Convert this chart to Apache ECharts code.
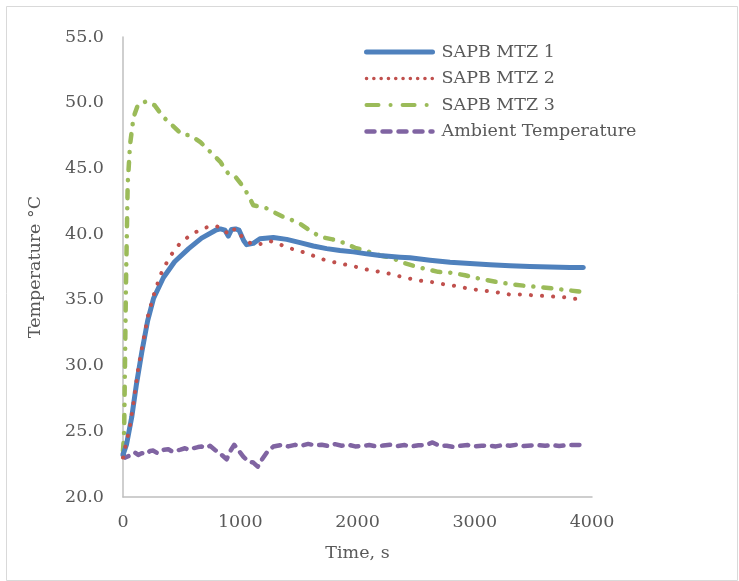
<!DOCTYPE html>
<html>
<head>
<meta charset="utf-8">
<script src="https://cdn.jsdelivr.net/npm/echarts@6/dist/echarts.min.js"></script>
<style>
html,body{margin:0;padding:0;background:#fff;}
#chart{width:739px;height:581px;}
</style>
</head>
<body>
<div id="chart"></div>
<script>
// ---- data ----
const seriesNames = ['SAPB MTZ 1', 'SAPB MTZ 2', 'SAPB MTZ 3', 'Ambient Temperature'];
const xTicks = [0, 1000, 2000, 3000, 4000];
const yTicks = [20, 25, 30, 35, 40, 45, 50, 55];

const mtz1Time = [0, 30, 75, 115, 160, 210, 260, 345, 440, 560, 670, 790, 830, 870, 898, 925, 960, 990, 1030, 1055, 1111, 1168, 1282, 1396, 1510, 1623, 1737, 1851, 1964, 2078, 2192, 2362, 2448, 2618, 2789, 2959, 3130, 3301, 3471, 3642, 3812, 3926];
const mtz1Temp = [23.2, 24.0, 26.1, 28.6, 31.0, 33.4, 35.1, 36.7, 37.9, 38.9, 39.7, 40.3, 40.4, 40.3, 39.85, 40.35, 40.4, 40.3, 39.5, 39.2, 39.3, 39.65, 39.75, 39.6, 39.35, 39.1, 38.9, 38.75, 38.65, 38.5, 38.38, 38.25, 38.2, 38.02, 37.87, 37.77, 37.67, 37.59, 37.54, 37.5, 37.47, 37.46];

const mtz2Time = [0, 20, 60, 90, 130, 173, 216, 273, 330, 400, 486, 586, 685, 770, 840, 898, 925, 980, 1010, 1055, 1111, 1196, 1254, 1325, 1410, 1510, 1595, 1708, 1822, 1964, 2078, 2192, 2305, 2405, 2490, 2561, 2647, 2746, 2846, 2945, 3045, 3187, 3301, 3414, 3528, 3642, 3755, 3855, 3920];
const mtz2Temp = [23.0, 23.8, 25.4, 27.2, 29.8, 31.9, 33.9, 35.7, 37.1, 38.3, 39.3, 40.0, 40.45, 40.65, 40.5, 40.0, 40.36, 40.36, 39.85, 39.47, 39.2, 39.27, 39.47, 39.27, 38.96, 38.71, 38.45, 38.07, 37.82, 37.56, 37.31, 37.13, 36.93, 36.68, 36.55, 36.42, 36.34, 36.17, 36.04, 35.86, 35.73, 35.58, 35.4, 35.4, 35.33, 35.27, 35.2, 35.08, 35.12];

const mtz3Time = [0, 10, 25, 40, 60, 90, 130, 200, 270, 345, 430, 500, 580, 660, 740, 830, 898, 955, 1026, 1069, 1111, 1226, 1296, 1382, 1490, 1595, 1680, 1788, 1879, 1979, 2064, 2192, 2292, 2391, 2490, 2576, 2689, 2803, 2917, 3045, 3201, 3329, 3457, 3571, 3755, 3870, 3921];
const mtz3Temp = [23.5, 25.0, 36.0, 43.8, 46.8, 48.9, 49.9, 50.1, 49.8, 48.9, 48.2, 47.6, 47.5, 47.0, 46.3, 45.5, 44.6, 44.4, 43.6, 42.95, 42.2, 41.96, 41.63, 41.25, 40.92, 40.28, 39.8, 39.6, 39.35, 38.96, 38.76, 38.38, 38.2, 37.82, 37.56, 37.36, 37.13, 37.06, 36.87, 36.6, 36.34, 36.17, 36.04, 35.96, 35.78, 35.65, 35.6];

const ambTime = [0, 20, 45, 70, 102, 130, 159, 202, 230, 258, 290, 316, 350, 386, 420, 458, 490, 529, 560, 600, 640, 671, 710, 742, 785, 842, 884, 913, 949, 983, 1026, 1069, 1111, 1149, 1183, 1226, 1282, 1354, 1410, 1467, 1520, 1580, 1640, 1695, 1750, 1808, 1865, 1922, 1980, 2036, 2100, 2160, 2220, 2280, 2340, 2400, 2460, 2520, 2580, 2640, 2700, 2760, 2820, 2880, 2940, 3000, 3060, 3120, 3180, 3240, 3300, 3360, 3420, 3480, 3540, 3600, 3660, 3720, 3780, 3840, 3920];
const ambTemp = [23.3, 23.0, 23.1, 23.2, 23.38, 23.2, 23.33, 23.28, 23.5, 23.53, 23.35, 23.46, 23.6, 23.64, 23.45, 23.53, 23.6, 23.71, 23.6, 23.71, 23.8, 23.84, 23.75, 23.89, 23.58, 23.2, 22.87, 23.46, 23.97, 23.58, 23.07, 22.69, 22.62, 22.31, 22.82, 23.38, 23.84, 23.97, 23.85, 23.97, 23.9, 24.04, 23.92, 23.97, 23.88, 24.02, 23.9, 23.97, 23.85, 23.89, 23.95, 23.85, 23.92, 23.98, 23.88, 23.95, 23.85, 23.93, 23.95, 24.15, 23.9, 23.9, 23.8, 23.9, 23.95, 23.85, 23.9, 23.92, 23.85, 23.95, 23.9, 23.98, 23.88, 23.92, 23.95, 23.9, 23.95, 23.88, 23.95, 23.95, 23.97];

// ---- build ----
const pair = (ts, vs) => ts.map((t, i) => [t, vs[i]]);
const FONT = 'DejaVu Serif';
const TXT = '#595959';
const colors = ['#4F81BD', '#C0504D', '#9BBB59', '#8064A2'];

const chart = echarts.init(document.getElementById('chart'), null, {renderer: 'canvas'});
chart.setOption({
  animation: false,
  backgroundColor: '#ffffff',
  textStyle: {fontFamily: FONT, color: TXT},
  graphic: [{
    type: 'rect', left: 4, top: 4, silent: true,
    shape: {width: 731, height: 574},
    style: {fill: 'none', stroke: '#d9d9d9', lineWidth: 1}
  }],
  grid: {left: 123, top: 37, width: 469, height: 460, containLabel: false},
  legend: {
    orient: 'vertical', left: 364, top: 42, padding: 0,
    itemWidth: 66, itemHeight: 14, itemGap: 6.5,
    itemStyle: {opacity: 0, borderWidth: 0},
    textStyle: {fontFamily: FONT, fontSize: 17.5, color: TXT, lineHeight: 20, padding: [0, 0, 0, 4]},
    data: [
      {name: seriesNames[0], lineStyle: {width: 5, cap: 'round'}},
      {name: seriesNames[1], lineStyle: {width: 3.5, type: [0.1, 7.2], cap: 'round'}},
      {name: seriesNames[2], lineStyle: {width: 4, type: [12, 12, 0.1, 12], cap: 'round'}},
      {name: seriesNames[3], lineStyle: {width: 4.5, type: [8, 8], cap: 'round'}}
    ]
  },
  xAxis: {
    type: 'value', min: 0, max: 4000, interval: 1000,
    name: 'Time, s', nameLocation: 'middle', nameGap: 47,
    nameTextStyle: {fontFamily: FONT, fontSize: 17.5, color: TXT},
    axisLine: {show: true, lineStyle: {color: '#bfbfbf', width: 1.5}},
    axisTick: {show: false},
    splitLine: {show: false},
    axisLabel: {fontFamily: FONT, fontSize: 17.5, color: TXT, margin: 16,
      customValues: xTicks, formatter: v => String(v)}
  },
  yAxis: {
    type: 'value', min: 20, max: 55, interval: 5,
    name: 'Temperature °C', nameLocation: 'middle', nameGap: 79, nameRotate: 90,
    nameTextStyle: {fontFamily: FONT, fontSize: 17.5, color: TXT},
    axisLine: {show: true, lineStyle: {color: '#bfbfbf', width: 1.5}},
    axisTick: {show: false},
    splitLine: {show: false},
    axisLabel: {fontFamily: FONT, fontSize: 17.5, color: TXT, margin: 19,
      customValues: yTicks, formatter: v => Number(v).toFixed(1)}
  },
  series: [
    {name: seriesNames[0], type: 'line', data: pair(mtz1Time, mtz1Temp), showSymbol: false, symbol: 'none',
      color: colors[0], lineStyle: {width: 5, color: colors[0], cap: 'round', join: 'round'}, z: 3},
    {name: seriesNames[1], type: 'line', data: pair(mtz2Time, mtz2Temp), showSymbol: false, symbol: 'none',
      color: colors[1], lineStyle: {width: 4, color: colors[1], type: [0.1, 11], cap: 'round', join: 'round'}, z: 4},
    {name: seriesNames[2], type: 'line', data: pair(mtz3Time, mtz3Temp), showSymbol: false, symbol: 'none',
      color: colors[2], lineStyle: {width: 4.5, color: colors[2], type: [8, 10, 0.1, 10], cap: 'round', join: 'round'}, z: 2},
    {name: seriesNames[3], type: 'line', data: pair(ambTime, ambTemp), showSymbol: false, symbol: 'none',
      color: colors[3], lineStyle: {width: 4.5, color: colors[3], type: [8, 8], cap: 'round', join: 'round'}, z: 2}
  ]
});
</script>
</body>
</html>
